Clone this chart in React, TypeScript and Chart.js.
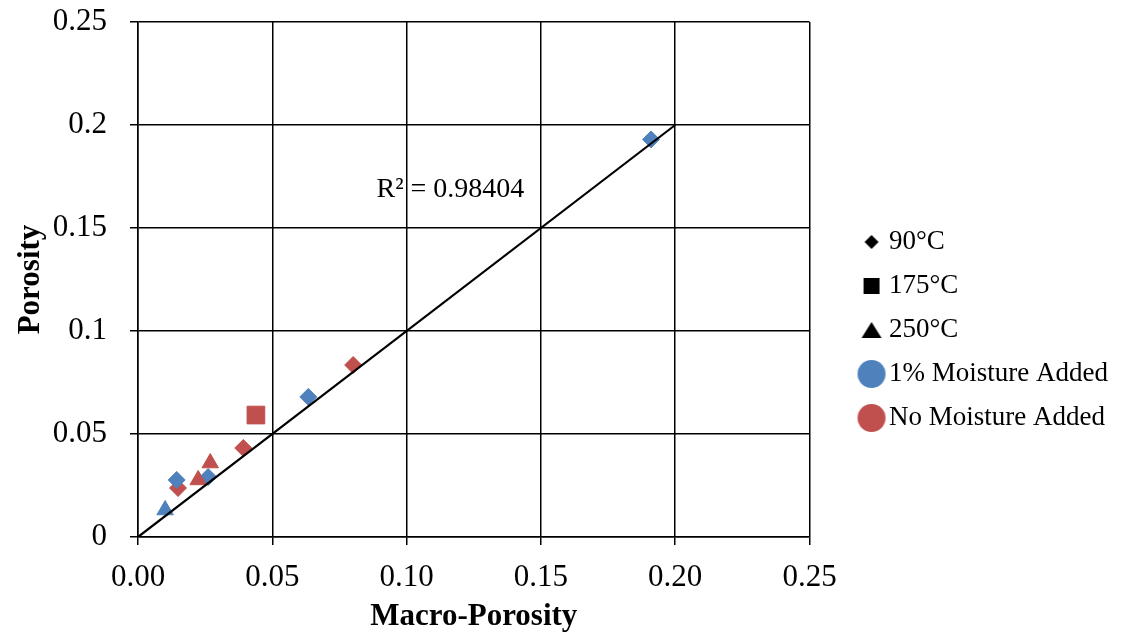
import React, { useEffect, useRef } from 'react';
import { Chart, registerables } from 'chart.js';

Chart.register(...registerables);

const BLUE = '#4F81BD';
const RED = '#C0504D';
const FONT = "'Liberation Serif', 'Times New Roman', serif";

const xTickLabels = ['0.00', '0.05', '0.10', '0.15', '0.20', '0.25'];
const yTickLabels = ['0', '0.05', '0.1', '0.15', '0.2', '0.25'];

// 90°C, 1% moisture added
const blue90X = [0.0144, 0.0261, 0.0634, 0.191];
const blue90Y = [0.0277, 0.0291, 0.068, 0.193];
// 90°C, no moisture added
const red90X = [0.0149, 0.0392, 0.0801];
const red90Y = [0.0238, 0.0432, 0.0835];
// 175°C, no moisture added
const red175X = [0.0439];
const red175Y = [0.0592];
// 250°C, 1% moisture added
const blue250X = [0.0101];
const blue250Y = [0.0131];
// 250°C, no moisture added
const red250X = [0.0224, 0.0269];
const red250Y = [0.0277, 0.0359];
// trend line
const fitX = [0, 0.2];
const fitY = [0, 0.2];

const rSquaredLabel = 'R\u00B2 = 0.98404';
const rSquaredAt = [0.1163, 0.1685];

const legendLabels = ['90°C', '175°C', '250°C', '1% Moisture Added', 'No Moisture Added'];

const pts = (xs: number[], ys: number[]) => xs.map((x, i) => ({ x, y: ys[i] }));

function makeMarker(shape: string, color: string): HTMLCanvasElement {
  const c = document.createElement('canvas');
  c.width = 30;
  c.height = 30;
  const g = c.getContext('2d')!;
  g.fillStyle = color;
  g.beginPath();
  if (shape === 'diamond') {
    g.moveTo(15, 8);
    g.lineTo(22, 15);
    g.lineTo(15, 22);
    g.lineTo(8, 15);
  } else if (shape === 'square') {
    g.rect(7, 7, 16, 16);
  } else if (shape === 'triangle') {
    g.moveTo(15, 7);
    g.lineTo(25, 23);
    g.lineTo(5, 23);
  } else {
    g.arc(15, 15, 14, 0, Math.PI * 2);
  }
  g.closePath();
  g.fill();
  return c;
}

export default function App() {
  const ref = useRef<HTMLCanvasElement>(null);

  useEffect(() => {
    document.body.style.margin = '0';
    const markers = [
      makeMarker('diamond', '#000'),
      makeMarker('square', '#000'),
      makeMarker('triangle', '#000'),
      makeMarker('circle', BLUE),
      makeMarker('circle', RED),
    ];

    const rSquaredPlugin = {
      id: 'rSquared',
      afterDatasetsDraw(chart: any) {
        const { ctx, scales } = chart;
        ctx.save();
        ctx.font = `28px ${FONT}`;
        ctx.fillStyle = '#000';
        ctx.textAlign = 'center';
        ctx.textBaseline = 'middle';
        ctx.fillText(
          rSquaredLabel,
          scales.x.getPixelForValue(rSquaredAt[0]),
          scales.y.getPixelForValue(rSquaredAt[1])
        );
        ctx.restore();
      },
    };

    const chart = new Chart(ref.current!, {
      type: 'scatter',
      data: {
        datasets: [
          {
            label: 'Trend',
            data: pts(fitX, fitY),
            showLine: true,
            borderColor: '#000',
            borderWidth: 2.2,
            pointRadius: 0,
            order: 0,
          },
          {
            label: '250°C No Moisture',
            data: pts(red250X, red250Y),
            pointStyle: 'triangle',
            pointRadius: 9.5,
            backgroundColor: RED,
            borderColor: RED,
            borderWidth: 1,
            order: 1,
          },
          {
            label: '175°C No Moisture',
            data: pts(red175X, red175Y),
            pointStyle: 'rect',
            pointRadius: 12.5,
            backgroundColor: RED,
            borderColor: RED,
            borderWidth: 1,
            order: 2,
          },
          {
            label: '90°C 1% Moisture',
            data: pts(blue90X, blue90Y),
            pointStyle: 'rectRot',
            pointRadius: 8.5,
            backgroundColor: BLUE,
            borderColor: BLUE,
            borderWidth: 1,
            order: 3,
          },
          {
            label: '90°C No Moisture',
            data: pts(red90X, red90Y),
            pointStyle: 'rectRot',
            pointRadius: 8.5,
            backgroundColor: RED,
            borderColor: RED,
            borderWidth: 1,
            order: 4,
          },
          {
            label: '250°C 1% Moisture',
            data: pts(blue250X, blue250Y),
            pointStyle: 'triangle',
            pointRadius: 9.5,
            backgroundColor: BLUE,
            borderColor: BLUE,
            borderWidth: 1,
            order: 5,
          },
        ],
      },
      options: {
        animation: false,
        responsive: false,
        devicePixelRatio: 1,
        layout: { padding: { top: 22, right: 8, left: 0, bottom: 0 } },
        plugins: {
          tooltip: { enabled: false },
          legend: {
            position: 'right',
            align: 'center',
            onClick: () => {},
            labels: {
              usePointStyle: true,
              pointStyleWidth: 8,
              padding: 17,
              color: '#000',
              font: { family: FONT, size: 27 },
              generateLabels: () =>
                legendLabels.map((text, i) => ({
                  text,
                  pointStyle: markers[i] as any,
                  fillStyle: '#000',
                  strokeStyle: 'transparent',
                  lineWidth: 0,
                  hidden: false,
                  fontColor: '#000',
                })),
            },
          },
        },
        scales: {
          x: {
            type: 'linear',
            min: 0,
            max: 0.25,
            afterFit: (s: any) => {
              s.height = 101;
            },
            ticks: {
              stepSize: 0.05,
              color: '#000',
              padding: 14,
              font: { family: FONT, size: 31 },
              callback: (_v: any, i: number) => xTickLabels[i],
            },
            grid: { color: '#000', lineWidth: 1.5, tickLength: 8 },
            border: { color: '#000', width: 1.5 },
            title: {
              display: true,
              text: 'Macro-Porosity',
              color: '#000',
              padding: { top: 0, bottom: 2 },
              font: { family: FONT, size: 31, weight: 'bold' },
            },
          },
          y: {
            type: 'linear',
            min: 0,
            max: 0.25,
            afterFit: (s: any) => {
              s.width = 138;
              s.paddingTop = 0;
              s.paddingBottom = 0;
            },
            ticks: {
              stepSize: 0.05,
              color: '#000',
              padding: 23,
              font: { family: FONT, size: 31 },
              callback: (_v: any, i: number) => yTickLabels[i],
            },
            grid: { color: '#000', lineWidth: 1.5, tickLength: 8 },
            border: { color: '#000', width: 1.5 },
            title: {
              display: true,
              text: 'Porosity',
              color: '#000',
              padding: { top: 12, bottom: 0 },
              font: { family: FONT, size: 31, weight: 'bold' },
            },
          },
          gap: {
            type: 'linear',
            position: 'right',
            display: false,
            afterFit: (s: any) => {
              s.width = 41;
            },
          },
        },
      } as any,
      plugins: [rSquaredPlugin],
    });

    return () => chart.destroy();
  }, []);

  return (
    <div style={{ width: 1126, height: 638, background: '#fff' }}>
      <canvas ref={ref} width={1126} height={638} style={{ display: 'block' }} />
    </div>
  );
}
